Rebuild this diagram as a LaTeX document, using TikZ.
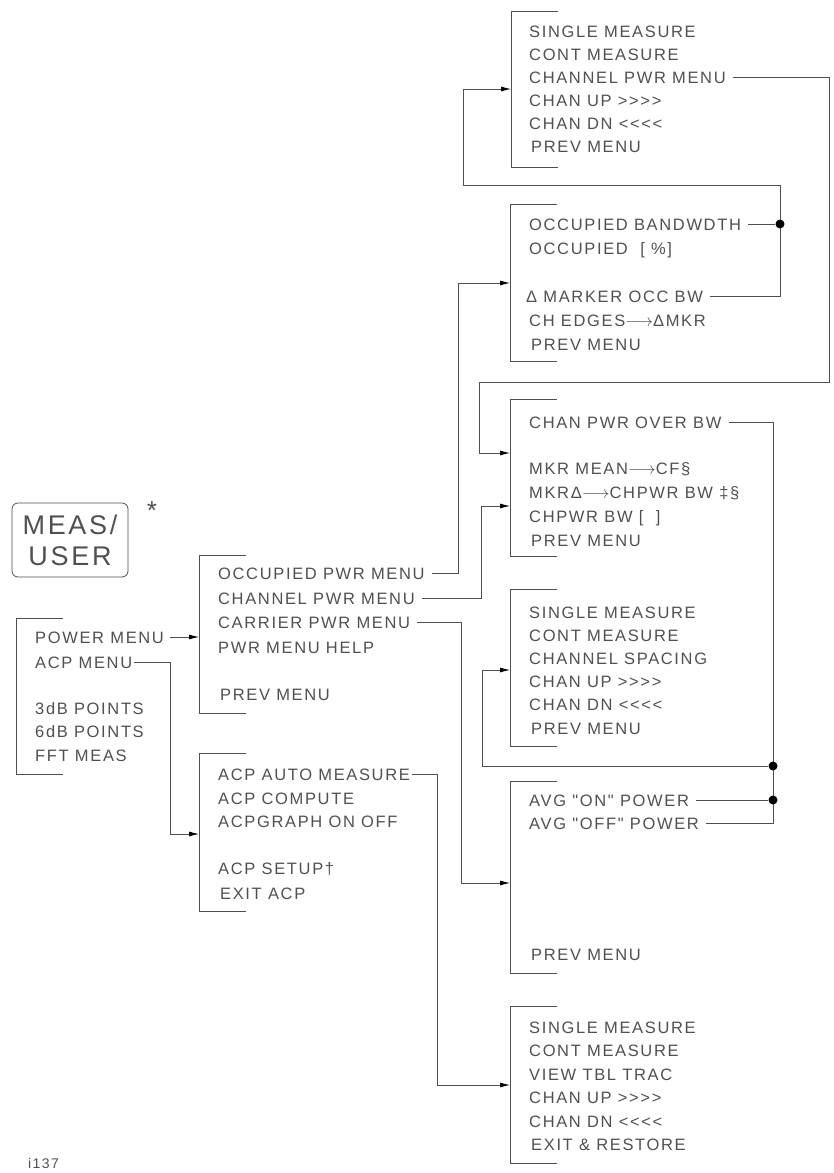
\documentclass[tikz,border=0pt]{standalone}
\usepackage{fontspec}
\setmainfont{Liberation Sans}[LetterSpace=10, Ligatures=TeXOff]
\usepackage{xcolor}
\definecolor{plotgray}{RGB}{80,80,80}
\usetikzlibrary{arrows.meta}

\tikzset{
  item/.style={anchor=west, inner sep=0pt, text height=12pt, text depth=0pt,
    text=plotgray, font=\fontsize{16.5}{20}\selectfont},
  bracket/.style={draw=plotgray, line width=0.8pt},
  wire/.style={draw=plotgray, line width=0.8pt},
  link/.style={wire, -{Latex[length=10pt,width=5pt,color=black]}},
  dot/.style={circle, fill=black, inner sep=0pt, minimum size=9pt},
}
% open menu frame: x, top, bottom
\newcommand{\menuframe}[3]{\draw[bracket] (#1+47,#2) -| (#1,#3) -- (#1+47,#3);}

\begin{document}
\begin{tikzpicture}[x=1pt, y=-1pt]
\useasboundingbox (0,0) rectangle (833,1173);

% hard key
\node[
  draw=plotgray,          % key outline
  line width=0.8pt,
  rounded corners=6pt,    % key corners
  minimum width=116pt,
  minimum height=74pt,
  align=center,
  text=plotgray,
  font=\fontsize{27}{31}\selectfont
] (key) at (70,540) {MEAS/\\USER};
\node[text=plotgray, inner sep=0pt, font=\fontsize{26}{26}\selectfont] (star) at (152,511) {*};

% first level
\menuframe{16}{618}{774}
\node[item] (lPower) at (35,637) {POWER MENU};
\node[item] (lAcp)   at (35,662) {ACP MENU};
\node[item] (l3dB)   at (35,708) {3dB POINTS};
\node[item] (l6dB)   at (35,731) {6dB POINTS};
\node[item] (lFft)   at (35,755) {FFT MEAS};

% power menu
\menuframe{199}{555}{713}
\node[item] (pOcc)  at (218,573) {OCCUPIED PWR MENU};
\node[item] (pChan) at (218,598) {CHANNEL PWR MENU};
\node[item] (pCarr) at (218,622) {CARRIER PWR MENU};
\node[item] (pHelp) at (218,647) {PWR MENU HELP};
\node[item] (pPrev) at (220,694) {PREV MENU};

% acp menu
\menuframe{199}{753}{911}
\node[item] (aAuto)  at (218,774) {ACP AUTO MEASURE};
\node[item] (aComp)  at (218,798) {ACP COMPUTE};
\node[item] (aGraph) at (218,821) {ACPGRAPH ON OFF};
\node[item] (aSetup) at (218,868) {ACP SETUP†};
\node[item] (aExit)  at (220,893) {EXIT ACP};

% channel power (top)
\menuframe{511}{11}{167}
\node[item] (c1) at (529,31)  {SINGLE MEASURE};
\node[item] (c2) at (529,54)  {CONT MEASURE};
\node[item] (c3) at (529,77)  {CHANNEL PWR MENU};
\node[item] (c4) at (529,100) {CHAN UP >>>>};
\node[item] (c5) at (529,123) {CHAN DN <<<<};
\node[item] (c6) at (531,146) {PREV MENU};

% occupied bandwidth
\menuframe{510}{204}{361}
\node[item] (o1) at (529,224) {OCCUPIED BANDWDTH};
\node[item] (o2) at (529,248) {OCCUPIED \ [\ \%]};
\node[item] (o4) at (526,296) {Δ MARKER OCC BW};
\node[item] (o5) at (529,320) {CH EDGES$\longrightarrow$ΔMKR};
\node[item] (o6) at (531,344) {PREV MENU};

% channel power over bw
\menuframe{510}{399}{556}
\node[item] (w1) at (529,422) {CHAN PWR OVER BW};
\node[item] (w3) at (529,468) {MKR MEAN$\longrightarrow$CF§};
\node[item] (w4) at (529,492) {MKRΔ$\longrightarrow$CHPWR BW ‡§};
\node[item] (w5) at (529,516) {CHPWR BW [\ \ ]};
\node[item] (w6) at (531,540) {PREV MENU};

% channel spacing
\menuframe{510}{589}{746}
\node[item] (s1) at (529,612) {SINGLE MEASURE};
\node[item] (s2) at (529,635) {CONT MEASURE};
\node[item] (s3) at (529,658) {CHANNEL SPACING};
\node[item] (s4) at (529,681) {CHAN UP >>>>};
\node[item] (s5) at (529,704) {CHAN DN <<<<};
\node[item] (s6) at (531,728) {PREV MENU};

% carrier power
\menuframe{510}{781}{973}
\node[item] (v1) at (529,800) {AVG "ON" POWER};
\node[item] (v2) at (529,823) {AVG "OFF" POWER};
\node[item] (v6) at (531,954) {PREV MENU};

% acp auto measure
\menuframe{510}{1006}{1163}
\node[item] (b1) at (529,1027) {SINGLE MEASURE};
\node[item] (b2) at (529,1050) {CONT MEASURE};
\node[item] (b3) at (529,1074) {VIEW TBL TRAC};
\node[item] (b4) at (529,1097) {CHAN UP >>>>};
\node[item] (b5) at (529,1121) {CHAN DN <<<<};
\node[item] (b6) at (531,1144) {EXIT \& RESTORE};

\node[item, font=\fontsize{14}{16}\selectfont] (figId) at (28,1162) {i137};

% bends and entry points
\coordinate (pmIn)    at (199,637);
\coordinate (acpBend) at (170,834);
\coordinate (acpIn)   at (199,834);
\coordinate (occBend) at (458,283);
\coordinate (occIn)   at (510,283);
\coordinate (cpBend)  at (481,506);
\coordinate (cpIn)    at (510,506);
\coordinate (carBend) at (461,883);
\coordinate (carIn)   at (510,883);
\coordinate (autBend) at (437,1085);
\coordinate (autIn)   at (510,1085);
\coordinate (chTurn)  at (829,382);
\coordinate (cwBend)  at (479,453);
\coordinate (cwIn)    at (510,453);
\coordinate (obTurn)  at (780,185);
\coordinate (topBend) at (463,89);
\coordinate (topIn)   at (511,89);
\coordinate (pwTurn)  at (773,823);
\coordinate (spBend)  at (482,670);
\coordinate (spIn)    at (510,670);

\draw[link] ([xshift=6pt]lPower.east) -- (pmIn);
\draw[link] ([xshift=2pt]lAcp.east) -| (acpBend) -- (acpIn);
\draw[link] ([xshift=7pt]pOcc.east) -| (occBend) -- (occIn);
\draw[link] ([xshift=7pt]pChan.east) -| (cpBend) -- (cpIn);
\draw[link] ([xshift=7pt]pCarr.east) -| (carBend) -- (carIn);
\draw[link] ([xshift=2pt]aAuto.east) -| (autBend) -- (autIn);

\draw[link] ([xshift=7pt]c3.east) -| (chTurn) -| (cwBend) -- (cwIn);
\draw[link] ([xshift=7pt]o4.east) -| (obTurn) -| (topBend) -- (topIn);
\node[dot] (obDot) at (o1.east -| obTurn) {};
\draw[wire] ([xshift=7pt]o1.east) -- (obDot);

\draw[wire] ([xshift=7pt]w1.east) -| (pwTurn) -- ([xshift=7pt]v2.east);
\node[dot] (avgDot) at (v1.east -| pwTurn) {};
\node[dot] (spDot) at (773,766) {};
\draw[wire] ([xshift=7pt]v1.east) -- (avgDot);
\draw[link] (spDot) -| (spBend) -- (spIn);
\end{tikzpicture}
\end{document}
